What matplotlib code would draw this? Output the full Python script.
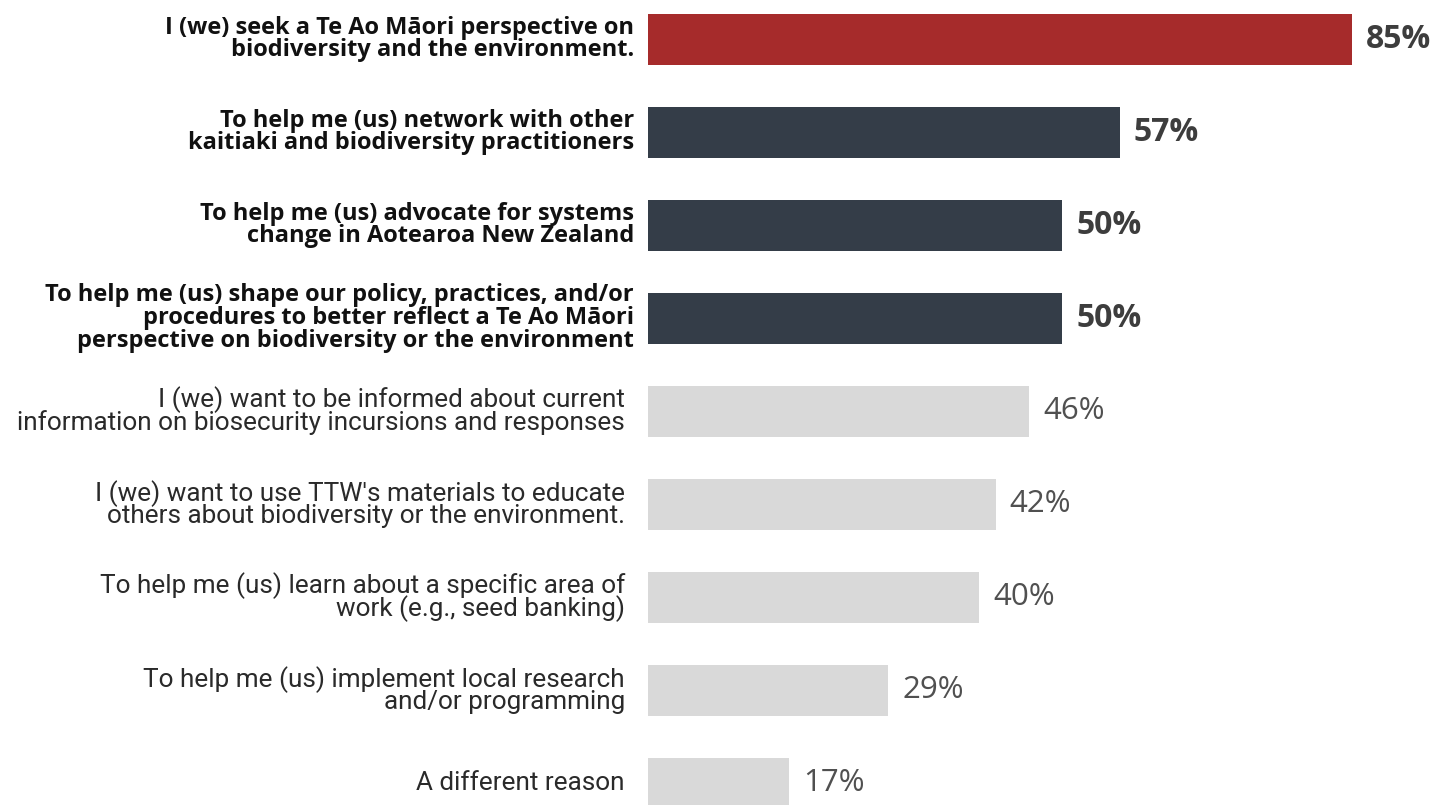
import matplotlib
matplotlib.use("Agg")
import matplotlib.pyplot as plt

reasons = [
    "I (we) seek a Te Ao Māori perspective on\nbiodiversity and the environment.",
    "To help me (us) network with other\nkaitiaki and biodiversity practitioners",
    "To help me (us) advocate for systems\nchange in Aotearoa New Zealand",
    "To help me (us) shape our policy, practices, and/or\nprocedures to better reflect a Te Ao Māori\nperspective on biodiversity or the environment",
    "I (we) want to be informed about current\ninformation on biosecurity incursions and responses",
    "I (we) want to use TTW's materials to educate\nothers about biodiversity or the environment.",
    "To help me (us) learn about a specific area of\nwork (e.g., seed banking)",
    "To help me (us) implement local research\nand/or programming",
    "A different reason",
]
percent = [85, 57, 50, 50, 46, 42, 40, 29, 17]
highlight = [True, True, True, True, False, False, False, False, False]

RED = "#a62b2b"
DARK = "#343d48"
LIGHT = "#d9d9d9"

fig = plt.figure(figsize=(14.35, 8.05), dpi=100)
# axes start where bars start (x=648px) and fill the rest of the figure
left = 648 / 1435
ax = fig.add_axes([left, 0, 1 - left, 1])

px_per_pct = 8.28
ax.set_xlim(0, (1435 - 648) / px_per_pct)
ax.set_ylim((805 - 39) / 93, -39 / 93)

colors = [RED] + [DARK if h else LIGHT for h in highlight[1:]]
ypos = list(range(len(percent)))
ax.barh(ypos, percent, height=51 / 93, color=colors, edgecolor="none")

for y, v, h, txt in zip(ypos, percent, highlight, reasons):
    ax.text(v + 14 / px_per_pct, y, f"{v}%", va="center", ha="left",
            fontsize=23 if h else 22.5, family="Open Sans",
            fontweight="bold" if h else "normal",
            color="#3d3d3d" if h else "#505050")
    if h:
        ax.text(-14 / px_per_pct, y, txt, va="center", ha="right",
                multialignment="right", fontsize=17, family="Open Sans",
                fontweight="bold", color="#111111", linespacing=0.93,
                clip_on=False)
    else:
        ax.text(-23 / px_per_pct, y, txt, va="center", ha="right",
                multialignment="right", fontsize=18.8, family="Roboto",
                color="#2a2a2a", linespacing=0.85, clip_on=False)

ax.axis("off")
fig.savefig("out.png", dpi=100)
